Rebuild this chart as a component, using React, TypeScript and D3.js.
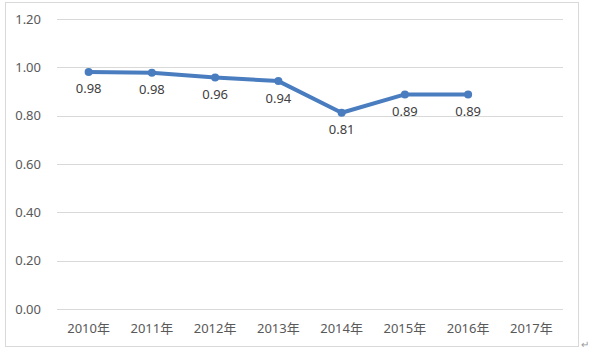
import React from "react";
import * as d3 from "d3";

const categories = ["2010年", "2011年", "2012年", "2013年", "2014年", "2015年", "2016年", "2017年"];
const values: (number | null)[] = [0.981, 0.978, 0.958, 0.943, 0.812, 0.888, 0.888, null];
const labels = ["0.98", "0.98", "0.96", "0.94", "0.81", "0.89", "0.89", ""];
const yTicks = [0, 0.2, 0.4, 0.6, 0.8, 1.0, 1.2];

const W = 589;
const H = 355;
const plot = { left: 57, right: 563, top: 19, bottom: 309 };
const font = "'Noto Sans', 'Noto Sans CJK SC', sans-serif";
const textColor = "#595959";
const lineColor = "#4a7dbf";

export default function App() {
  const x = d3.scaleBand<string>().domain(categories).range([plot.left, plot.right]);
  const y = d3.scaleLinear().domain([0, 1.2]).range([plot.bottom, plot.top]);
  const cx = (c: string) => (x(c) ?? 0) + x.bandwidth() / 2;

  const pts = categories
    .map((c, i) => ({ c, v: values[i], l: labels[i] }))
    .filter((d) => d.v !== null) as { c: string; v: number; l: string }[];

  const line = d3
    .line<{ c: string; v: number }>()
    .x((d) => cx(d.c))
    .y((d) => y(d.v));

  return (
    <svg
      width={W}
      height={H}
      style={{ position: "absolute", left: 0, top: 0, background: "#fff" }}
      fontFamily={font}
    >
      <rect x={5.5} y={2.5} width={573} height={344} fill="#fff" stroke="#d9d9d9" strokeWidth={1} />
      {yTicks.map((t) => (
        <g key={t}>
          <line x1={plot.left} x2={plot.right} y1={Math.round(y(t)) + 0.5} y2={Math.round(y(t)) + 0.5} stroke="#d9d9d9" strokeWidth={1} />
          <text x={41} y={y(t)} dy="0.35em" textAnchor="end" fontSize={13} fill={textColor}>
            {d3.format(".2f")(t)}
          </text>
        </g>
      ))}
      {categories.map((c) => (
        <text key={c} x={cx(c)} y={328} dy="0.35em" textAnchor="middle" fontSize={13} fill={textColor}>
          {c}
        </text>
      ))}
      <path d={line(pts) ?? ""} fill="none" stroke={lineColor} strokeWidth={4} strokeLinejoin="round" />
      {pts.map((d) => (
        <circle key={d.c} cx={cx(d.c)} cy={y(d.v)} r={4} fill={lineColor} />
      ))}
      {pts.map((d) => (
        <text key={"l" + d.c} x={cx(d.c)} y={y(d.v) + 17} dy="0.35em" textAnchor="middle" fontSize={13} fill="#404040">
          {d.l}
        </text>
      ))}
      <text x={581} y={348} fontSize={10} fill="#999">↵</text>
    </svg>
  );
}
